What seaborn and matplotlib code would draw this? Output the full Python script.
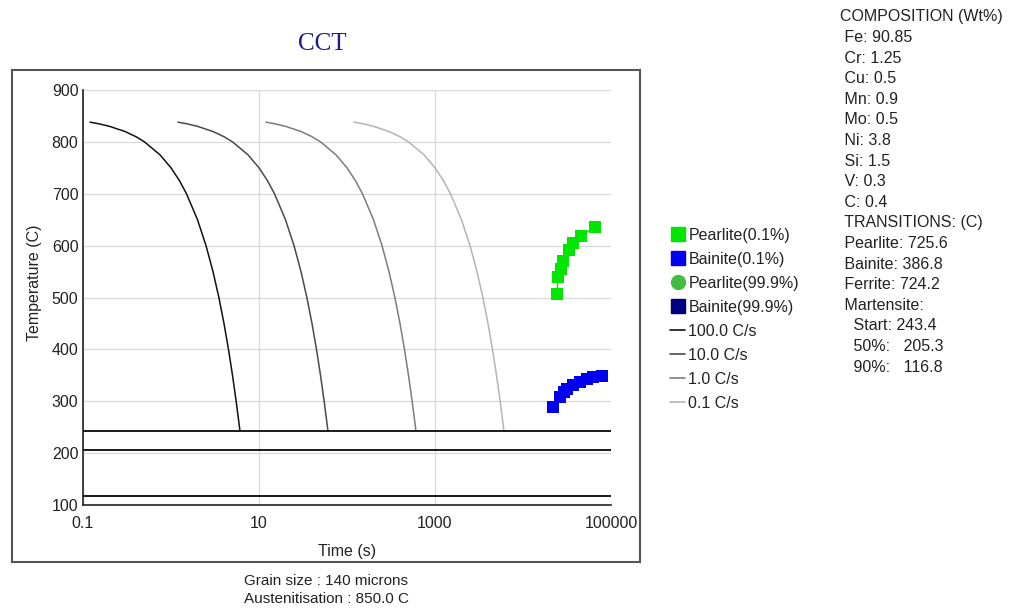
import matplotlib
matplotlib.use("Agg")
import matplotlib.pyplot as plt
import matplotlib.patches as patches
from matplotlib.lines import Line2D
from matplotlib.ticker import FixedLocator, LogLocator, NullFormatter
import seaborn as sns
import pandas as pd

# ---------------------------------------------------
# Data
# ---------------------------------------------------

rate_labels = ["100.0 C/s", "10.0 C/s", "1.0 C/s", "0.1 C/s"]
rate_colors = ["#111111", "#4a4a4a", "#7c7c7c", "#b4b4b4"]

cool_temps = [838, 835, 830, 820, 810, 800, 775, 750, 725, 700, 650, 600,
              550, 500, 450, 400, 350, 300, 243.4]
time_100 = [0.12, 0.15, 0.2, 0.3, 0.4, 0.5, 0.75, 1.0, 1.25, 1.5, 2.0, 2.5,
            3.0, 3.5, 4.0, 4.5, 5.0, 5.5, 6.07]
time_10 = [1.2, 1.5, 2, 3, 4, 5, 7.5, 10, 12.5, 15, 20, 25,
           30, 35, 40, 45, 50, 55, 60.7]
time_1 = [12, 15, 20, 30, 40, 50, 75, 100, 125, 150, 200, 250,
          300, 350, 400, 450, 500, 550, 607]
time_01 = [120, 150, 200, 300, 400, 500, 750, 1000, 1250, 1500, 2000, 2500,
           3000, 3500, 4000, 4500, 5000, 5500, 6070]
cool_times = [time_100, time_10, time_1, time_01]

pearlite_time = [24300, 25000, 27000, 28500, 33300, 37000, 45600, 65800]
pearlite_temp = [507, 540, 555, 571, 592, 605, 619, 636]

bainite_time = [21900, 26300, 29000, 31600, 37000, 44400, 53400, 62400, 79100]
bainite_temp = [289, 308, 317, 324, 332, 337, 343, 347, 349]

martensite_levels = [243.4, 205.3, 116.8]

x_ticks = [0.1, 10, 1000, 100000]
x_tick_labels = ["0.1", "10", "1000", "100000"]
y_ticks = [100, 200, 300, 400, 500, 600, 700, 800, 900]

info_lines = [
    "COMPOSITION (Wt%)",
    " Fe: 90.85",
    " Cr: 1.25",
    " Cu: 0.5",
    " Mn: 0.9",
    " Mo: 0.5",
    " Ni: 3.8",
    " Si: 1.5",
    " V: 0.3",
    " C: 0.4",
    " TRANSITIONS: (C)",
    " Pearlite: 725.6",
    " Bainite: 386.8",
    " Ferrite: 724.2",
    " Martensite:",
    "   Start: 243.4",
    "   50%:   205.3",
    "   90%:   116.8",
]

footer_lines = ["Grain size : 140 microns", "Austenitisation : 850.0 C"]

# ---------------------------------------------------
# Style
# ---------------------------------------------------

sns.set_style("white")
plt.rcParams["font.family"] = ["Liberation Sans", "DejaVu Sans"]
text_color = "#222222"

W, H = 1011, 615
fig = plt.figure(figsize=(W / 100, H / 100), dpi=100)
ax = fig.add_axes([83 / W, 1 - 505 / H, (611 - 83) / W, (505 - 90) / H])

# cooling curves
for label, color, times in zip(rate_labels, rate_colors, cool_times):
    df = pd.DataFrame({"time": times, "temp": cool_temps})
    sns.lineplot(data=df, x="time", y="temp", color=color, linewidth=1.1,
                 sort=False, estimator=None, ax=ax)

# martensite lines
for level in martensite_levels:
    ax.axhline(level, color="#1a1a1a", linewidth=1.4, zorder=3)

# transformation points
sns.lineplot(x=pearlite_time, y=pearlite_temp, color="#00e600", marker="s",
             markersize=8, markeredgewidth=0, linewidth=1.0,
             sort=False, estimator=None, ax=ax, zorder=4)
sns.lineplot(x=bainite_time, y=bainite_temp, color="#0000ee", marker="s",
             markersize=8, markeredgewidth=0, linewidth=1.0,
             sort=False, estimator=None, ax=ax, zorder=4)

# axes
ax.set_xscale("log")
ax.set_xlim(0.1, 100000)
ax.set_ylim(100, 900)
ax.xaxis.set_major_locator(FixedLocator(x_ticks))
ax.set_xticklabels(x_tick_labels)
ax.xaxis.set_minor_locator(LogLocator(base=10, subs=range(1, 10), numticks=20))
ax.xaxis.set_minor_formatter(NullFormatter())
ax.set_yticks(y_ticks)
ax.yaxis.set_minor_locator(FixedLocator([150, 250, 350, 450, 550, 650, 750, 850]))

ax.tick_params(axis="both", which="both", direction="inout", length=6.5,
               width=1.1, color="#222222", labelsize=11.5, labelcolor=text_color)
ax.tick_params(axis="x", which="major", pad=5)
ax.tick_params(axis="y", which="major", pad=0)

ax.grid(True, which="major", color="#d9d9d9", linewidth=0.9)
ax.xaxis.get_major_ticks()[-1].gridline.set_visible(False)
ax.set_axisbelow(True)

for side in ["top", "right"]:
    ax.spines[side].set_visible(False)
for side in ["left", "bottom"]:
    ax.spines[side].set_color("#222222")
    ax.spines[side].set_linewidth(1.2)

ax.set_xlabel("Time (s)", fontsize=11.5, color=text_color, labelpad=9)
ax.set_ylabel("Temperature (C)", fontsize=11.5, color=text_color)
ax.yaxis.set_label_coords(-0.078, 0.535)

# title
fig.text(322 / W, 1 - 44 / H, "CCT", ha="center", va="center",
         fontsize=18, color="#1c1c8c", family=["Liberation Serif", "DejaVu Serif"])

# outer frame around the chart
fig.patches.append(patches.Rectangle((12 / W, 1 - 562 / H), (640 - 12) / W,
                                     (562 - 70) / H, transform=fig.transFigure,
                                     fill=False, edgecolor="#555555", linewidth=1.5))

# legend
handles = [
    Line2D([], [], linestyle="none", marker="s", markersize=10, color="#00e600"),
    Line2D([], [], linestyle="none", marker="s", markersize=10, color="#0000ee"),
    Line2D([], [], linestyle="none", marker="o", markersize=10, color="#44bb44"),
    Line2D([], [], linestyle="none", marker="s", markersize=10, color="#000080"),
] + [Line2D([], [], color=c, linewidth=1.2) for c in rate_colors]
labels = ["Pearlite(0.1%)", "Bainite(0.1%)", "Pearlite(99.9%)", "Bainite(99.9%)"] + rate_labels
fig.legend(handles, labels, loc="upper left", bbox_to_anchor=(670 / W, 1 - 228 / H),
           frameon=False, fontsize=11.5, handlelength=0.95, handletextpad=0.2,
           labelspacing=0.56, borderaxespad=0, borderpad=0, labelcolor=text_color)

# composition / transition text
for i, line in enumerate(info_lines):
    fig.text(840 / W, 1 - (17 + i * 20.6) / H, line, ha="left", va="center",
             fontsize=11.5, color=text_color)

# footer
for i, line in enumerate(footer_lines):
    fig.text(326 / W, 1 - (581 + i * 18) / H, line, ha="center", va="center",
             fontsize=11, color=text_color)

fig.savefig("out.png", dpi=100)
